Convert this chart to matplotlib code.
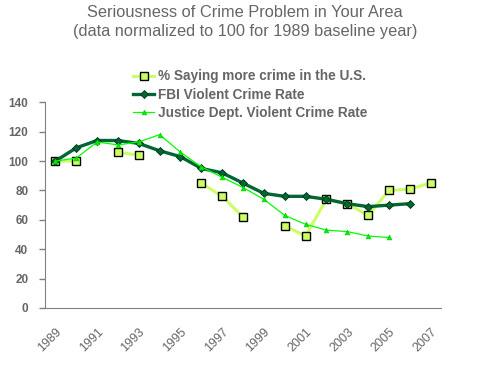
import matplotlib
matplotlib.use("Agg")
import matplotlib.pyplot as plt
import numpy as np

# ---------------------------------------
# Data (index 1989 = 100)
# ---------------------------------------
years = list(range(1989, 2008))
tick_labels = [str(y) if (y - 1989) % 2 == 0 else "" for y in years]

nan = np.nan
gallup = [100, 100, nan, 106, 104, nan, nan, 85, 76, 62,
          nan, 56, 49, 74, 71, 63, 80, 81, 85]
fbi = [100, 109, 114, 114, 112, 107, 103, 95, 92, 85,
       78, 76, 76, 74, 71, 69, 70, 71, nan]
justice = [100, 102, 113, 111, 113, 118, 106, 96, 89, 82,
           74, 63, 57, 53, 52, 49, 48, nan, nan]

series_labels = [
    "% Saying more crime in the U.S.",
    "FBI Violent Crime Rate",
    "Justice Dept. Violent Crime Rate",
]

GRAY = "#666666"
AXIS_GRAY = "#808080"

plt.rcParams.update({
    "font.family": ["Liberation Sans", "DejaVu Sans"],
})

fig = plt.figure(figsize=(4.9, 3.66), dpi=100)
ax = fig.add_axes([45 / 490, 1 - 308 / 366, 396 / 490, (308 - 102.3) / 366])

x = np.arange(len(years))

ax.plot(x, gallup, color="#ccff66", linewidth=2.2, marker="s",
        markersize=6, markerfacecolor="#ccff66", markeredgecolor="black",
        markeredgewidth=1.0, label=series_labels[0], zorder=3)
ax.plot(x, fbi, color="#006633", linewidth=2.4, marker="D",
        markersize=4.5, markerfacecolor="#006633", markeredgecolor="#003319",
        markeredgewidth=0.6, label=series_labels[1], zorder=4)
ax.plot(x, justice, color="#00ff00", linewidth=0.9, marker="^",
        markersize=3.5, markerfacecolor="#00ee00", markeredgecolor="#00cc00",
        markeredgewidth=0.4, label=series_labels[2], zorder=5)

ax.set_xlim(-0.5, len(years) - 0.5)
ax.set_ylim(0, 140)
ax.set_yticks(range(0, 141, 20))
ax.set_xticks(x)
ax.set_xticklabels(tick_labels, rotation=45, ha="right", va="top",
                   rotation_mode="anchor", fontsize=9, color=GRAY)
for lbl in ax.get_yticklabels():
    lbl.set_fontweight("bold")
    lbl.set_fontsize(8.5)
    lbl.set_color(GRAY)

ax.tick_params(axis="x", length=0, pad=13)
ax.tick_params(axis="y", length=4, width=1, color=AXIS_GRAY, pad=8)

ax.spines["top"].set_visible(False)
ax.spines["right"].set_visible(False)
ax.spines["left"].set_color(AXIS_GRAY)
ax.spines["bottom"].set_color(AXIS_GRAY)

fig.text(0.5, 0.985,
         "Seriousness of Crime Problem in Your Area\n"
         "(data normalized to 100 for 1989 baseline year)",
         ha="center", va="top", fontsize=11.8, color=GRAY, linespacing=1.3)

leg = fig.legend(loc="upper left", bbox_to_anchor=(128 / 490, 1 - 64 / 366),
                 frameon=False, handlelength=1.5, handletextpad=0.3,
                 labelspacing=0.32, borderaxespad=0,
                 prop={"weight": "bold", "size": 9.8})
for t in leg.get_texts():
    t.set_color(GRAY)

fig.savefig("out.png", dpi=100, facecolor="white")
